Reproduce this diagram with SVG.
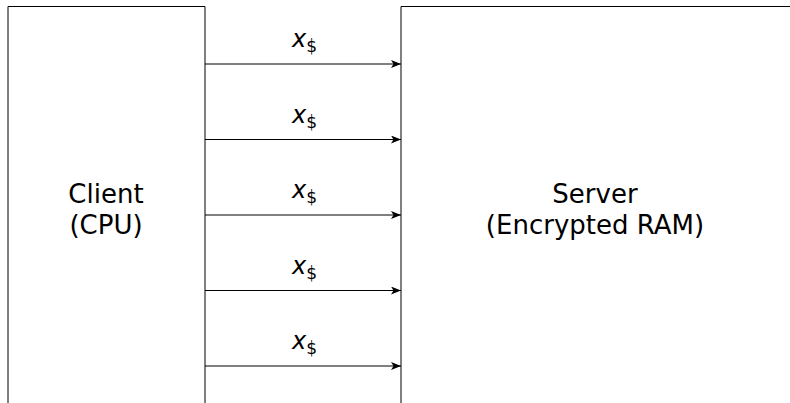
<svg xmlns="http://www.w3.org/2000/svg" width="790" height="403" viewBox="0 0 790 403">
<defs>
<style>
.box{fill:none;stroke:#000;stroke-width:1}
.conn{stroke:#000;stroke-width:1;fill:none}
.nl{font-family:"DejaVu Sans",sans-serif;font-size:26px;fill:#000;text-anchor:middle}
.lbl{font-family:"DejaVu Sans",sans-serif;font-size:24px;fill:#000}
.x{font-style:italic}
.sub{font-size:17px}
</style>
<marker id="ah" viewBox="0 0 10 8" refX="10" refY="4" markerWidth="10" markerHeight="8" markerUnits="userSpaceOnUse" orient="auto">
<path d="M0,0 L10,4 L0,8 L2.5,4 Z" fill="#000"/>
</marker>
</defs>
<rect width="790" height="403" fill="#fff"/>
<g id="client">
<path class="box" d="M8,403 V6.5 H205 V403"/>
<text class="nl" x="106" y="203">Client</text>
<text class="nl" x="106" y="234">(CPU)</text>
</g>
<g id="server">
<path class="box" d="M401,403 V6.5 H790"/>
<text class="nl" x="595" y="203">Server</text>
<text class="nl" x="595" y="234">(Encrypted RAM)</text>
</g>
<g id="connectors">
<line class="conn" x1="205" y1="64" x2="401" y2="64" marker-end="url(#ah)"/>
<line class="conn" x1="205" y1="139.5" x2="401" y2="139.5" marker-end="url(#ah)"/>
<line class="conn" x1="205" y1="215" x2="401" y2="215" marker-end="url(#ah)"/>
<line class="conn" x1="205" y1="290.5" x2="401" y2="290.5" marker-end="url(#ah)"/>
<line class="conn" x1="205" y1="366" x2="401" y2="366" marker-end="url(#ah)"/>
<text class="lbl" x="292" y="47"><tspan class="x">x</tspan><tspan class="sub" dy="5">$</tspan></text>
<text class="lbl" x="292" y="122.5"><tspan class="x">x</tspan><tspan class="sub" dy="5">$</tspan></text>
<text class="lbl" x="292" y="198"><tspan class="x">x</tspan><tspan class="sub" dy="5">$</tspan></text>
<text class="lbl" x="292" y="273.5"><tspan class="x">x</tspan><tspan class="sub" dy="5">$</tspan></text>
<text class="lbl" x="292" y="349"><tspan class="x">x</tspan><tspan class="sub" dy="5">$</tspan></text>
</g>
</svg>
